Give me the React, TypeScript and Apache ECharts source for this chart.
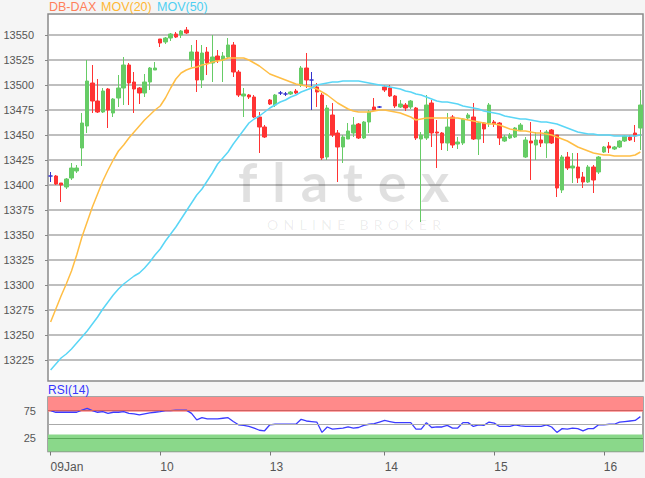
import React, { useEffect, useRef } from "react";
import * as echarts from "echarts";

// ---- data ----
const dayLabels = ["09Jan", "10", "13", "14", "15", "16"];
const dayStarts = [0, 21, 42, 64, 85, 106];

const opens = [
  13409, 13409, 13402, 13398, 13407, 13414, 13437, 13459, 13502, 13484, 13473, 13496, 13472, 13487, 13497, 13520, 13503, 13497, 13492, 13503, 13515,
  13546, 13543, 13547, 13551, 13550, 13555, 13525, 13533, 13505, 13533, 13522, 13529, 13525, 13528, 13540, 13513, 13489, 13490, 13488, 13468, 13458,
  13485, 13480, 13492, 13491, 13491, 13494, 13500, 13517, 13505, 13498, 13490, 13428, 13470, 13452, 13438, 13446, 13452, 13461, 13447, 13463, 13478, 13478,
  13498, 13497, 13489, 13478, 13480, 13478, 13477, 13446, 13447, 13482, 13453, 13452, 13442, 13468, 13441, 13442, 13467, 13468, 13446, 13462, 13462,
  13463, 13462, 13444, 13447, 13448, 13455, 13428, 13444, 13440, 13445, 13442, 13455, 13450, 13395, 13428, 13417, 13418, 13408, 13403, 13418, 13413,
  13433, 13439, 13436, 13438, 13444, 13448, 13452, 13457,
];
const closes = [
  13409, 13401, 13400, 13406, 13417, 13417, 13462, 13504, 13484, 13473, 13494, 13475, 13486, 13497, 13520, 13502, 13496, 13492, 13503, 13517, 13517,
  13542, 13547, 13551, 13548, 13554, 13552, 13533, 13505, 13532, 13522, 13528, 13525, 13529, 13540, 13513, 13490, 13491, 13488, 13468, 13458, 13448,
  13481, 13490, 13492, 13491, 13493, 13492, 13517, 13505, 13505, 13493, 13427, 13477, 13450, 13438, 13448, 13454, 13460, 13447, 13463, 13473, 13475, 13478,
  13495, 13489, 13479, 13481, 13477, 13484, 13447, 13450, 13480, 13452, 13452, 13442, 13458, 13440, 13443, 13466, 13470, 13446, 13462, 13456, 13480,
  13461, 13447, 13448, 13450, 13457, 13460, 13445, 13442, 13445, 13442, 13453, 13442, 13397, 13428, 13417, 13419, 13407, 13403, 13418, 13405, 13428,
  13438, 13437, 13438, 13444, 13449, 13445, 13449, 13480,
];
const lows = [
  13403, 13400, 13383, 13396, 13405, 13412, 13419, 13452, 13472, 13472, 13472, 13457, 13468, 13478, 13480, 13480, 13472, 13481, 13488, 13495, 13515,
  13538, 13541, 13544, 13547, 13547, 13551, 13518, 13493, 13497, 13510, 13503, 13522, 13503, 13527, 13508, 13488, 13468, 13486, 13467, 13432, 13447,
  13480, 13478, 13490, 13489, 13490, 13491, 13498, 13497, 13475, 13478, 13425, 13425, 13448, 13403, 13422, 13446, 13448, 13446, 13446, 13452, 13475, 13477,
  13493, 13488, 13477, 13477, 13474, 13476, 13445, 13363, 13445, 13438, 13417, 13435, 13434, 13437, 13436, 13440, 13465, 13445, 13430, 13442, 13458,
  13458, 13440, 13443, 13446, 13447, 13454, 13427, 13405, 13425, 13438, 13427, 13441, 13388, 13392, 13415, 13402, 13402, 13397, 13402, 13392, 13411,
  13432, 13432, 13435, 13437, 13443, 13444, 13443, 13435,
];
const highs = [
  13413, 13410, 13402, 13407, 13422, 13420, 13472, 13525, 13520, 13506, 13497, 13497, 13487, 13510, 13528, 13522, 13513, 13498, 13511, 13518, 13523,
  13546, 13548, 13552, 13553, 13555, 13558, 13540, 13545, 13540, 13538, 13550, 13535, 13533, 13547, 13543, 13515, 13497, 13491, 13490, 13473, 13460,
  13486, 13491, 13494, 13493, 13494, 13496, 13519, 13532, 13513, 13502, 13492, 13480, 13482, 13455, 13450, 13462, 13468, 13462, 13464, 13475, 13487, 13479,
  13500, 13500, 13490, 13485, 13482, 13485, 13478, 13453, 13490, 13485, 13465, 13453, 13472, 13470, 13448, 13467, 13472, 13482, 13463, 13463, 13482,
  13465, 13463, 13450, 13452, 13458, 13462, 13448, 13463, 13453, 13455, 13455, 13456, 13450, 13430, 13433, 13432, 13432, 13413, 13420, 13420, 13429,
  13439, 13443, 13439, 13445, 13450, 13450, 13460, 13495,
];
const ma20 = [
  13263, 13276, 13289, 13301, 13314, 13330, 13348, 13363, 13378, 13391, 13404, 13415, 13425, 13434, 13440, 13447, 13453, 13459, 13465, 13470, 13475,
  13479, 13487, 13497, 13506, 13512, 13515, 13517, 13518, 13520, 13521, 13523, 13524, 13525, 13527, 13527, 13527, 13527, 13525, 13522, 13519, 13515,
  13511, 13509, 13507, 13505, 13503, 13501, 13500, 13499, 13498, 13496, 13493, 13490, 13486, 13482, 13479, 13476, 13474, 13473, 13473, 13473, 13474, 13475,
  13475, 13474, 13473, 13472, 13470, 13468, 13465, 13466, 13467, 13467, 13467, 13467, 13467, 13467, 13467, 13466, 13465, 13464, 13463, 13462, 13461,
  13461, 13460, 13458, 13456, 13455, 13454, 13454, 13453, 13452, 13452, 13451, 13450, 13448, 13446, 13444, 13441, 13438, 13436, 13434, 13432, 13431,
  13430, 13430, 13429, 13429, 13429, 13429, 13430, 13433,
];
const ma50 = [
  13215, 13221, 13227, 13231, 13236, 13242, 13248, 13254, 13261, 13268, 13276, 13283, 13290, 13296, 13301, 13305, 13309, 13312, 13317, 13323, 13330,
  13336, 13344, 13351, 13358, 13366, 13374, 13382, 13390, 13396, 13404, 13412, 13421, 13427, 13433, 13441, 13448, 13455, 13462, 13466, 13469, 13473,
  13477, 13480, 13483, 13485, 13488, 13490, 13493, 13495, 13497, 13500, 13501, 13502, 13503, 13503, 13504, 13504, 13504, 13504, 13503, 13502, 13501, 13500,
  13499, 13498, 13497, 13496, 13494, 13493, 13491, 13490, 13488, 13486, 13484, 13483, 13483, 13482, 13481, 13479, 13478, 13477, 13476, 13474, 13473,
  13472, 13471, 13469, 13468, 13467, 13466, 13466, 13465, 13464, 13463, 13463, 13462, 13461, 13459, 13457, 13455, 13453, 13452, 13451, 13451, 13450,
  13450, 13450, 13449, 13449, 13449, 13449, 13449, 13450,
];
const rsi14 = [
  75, 72, 72, 72, 72, 72, 76, 79, 75, 72, 73, 70, 72, 72, 73, 70, 69, 67, 69, 71, 72,
  73, 75, 75, 76, 76, 76, 70, 58, 62, 60, 60, 60, 61, 62, 55, 49, 48, 46, 43, 39, 38,
  49, 50, 50, 50, 50, 50, 59, 56, 55, 54, 35, 45, 41, 42, 43, 45, 43, 44, 48, 50, 51, 54,
  57, 55, 53, 53, 53, 53, 41, 41, 53, 44, 45, 45, 48, 43, 43, 53, 53, 46, 49, 48, 54,
  52, 46, 46, 46, 49, 47, 46, 46, 46, 46, 49, 45, 35, 42, 41, 43, 42, 38, 42, 42, 49,
  49, 50, 50, 54, 55, 56, 57, 64,
];
const priceTicks = [13225, 13250, 13275, 13300, 13325, 13350, 13375, 13400, 13425, 13450, 13475, 13500, 13525, 13550];
const rsiTicks = [25, 75];

const UP = "#66cc66";
const DOWN = "#ff3333";
const DOJI = "#3333cc";
const FONT = "'Liberation Sans', Arial, sans-serif";

export default function App() {
  const ref = useRef<HTMLDivElement>(null);

  useEffect(() => {
    const chart = echarts.init(ref.current!, null, { renderer: "svg" });
    const cats = opens.map((_, i) => String(i));
    const candles = opens.map((o, i) => {
      const v = [o, closes[i], lows[i], highs[i]];
      return o === closes[i]
        ? { value: v, itemStyle: { color: DOJI, color0: DOJI, borderColor: DOJI, borderColor0: DOJI } }
        : v;
    });
    const isDay = (i: number) => dayStarts.indexOf(i) >= 0;

    chart.setOption({
      animation: false,
      backgroundColor: "#f5f5f5",
      textStyle: { fontFamily: FONT },
      grid: [
        { left: 48, top: 14, width: 595, height: 367, show: true, backgroundColor: "#ffffff", borderColor: "#8a8a8a", borderWidth: 1.5 },
        { left: 48, top: 397, width: 595, height: 54.5, show: true, backgroundColor: "#ffffff", borderColor: "#8a8a8a", borderWidth: 1.5 },
      ],
      xAxis: [
        { type: "category", gridIndex: 0, data: cats, boundaryGap: true, show: false },
        {
          type: "category",
          gridIndex: 1,
          data: cats,
          boundaryGap: true,
          offset: 2,
          axisLine: { show: false },
          axisTick: { show: true, alignWithLabel: true, interval: (i: number) => isDay(i), length: 4, lineStyle: { color: "#777" } },
          axisLabel: {
            interval: (i: number) => isDay(i),
            formatter: (v: string) => dayLabels[dayStarts.indexOf(Number(v))] ?? "",
            align: "left",
            margin: 7,
            color: "#555",
            fontSize: 12,
          },
          splitLine: { show: false },
        },
      ],
      yAxis: [
        {
          type: "value",
          gridIndex: 0,
          min: 13204,
          max: 13571,
          axisLine: { show: false },
          axisTick: { show: true, customValues: priceTicks, length: 3, lineStyle: { color: "#888" } },
          axisLabel: { customValues: priceTicks, formatter: (v: number) => String(v), color: "#555", fontSize: 11, margin: 14 },
          splitLine: { show: true, lineStyle: { color: "#aaaaaa", width: 1.5 } },
        },
        {
          type: "value",
          gridIndex: 1,
          min: 0,
          max: 100,
          interval: 25,
          axisLine: { show: false },
          axisTick: { show: false },
          axisLabel: { customValues: rsiTicks, formatter: (v: number) => String(v), color: "#555", fontSize: 11, margin: 12 },
          splitLine: { show: false },
        },
      ],
      graphic: [
        { type: "text", x: 49, y: 7, style: { text: "DB-DAX", fill: "#ff7f5a", fontSize: 12.5, fontFamily: FONT, verticalAlign: "middle" } },
        { type: "text", x: 101, y: 7, style: { text: "MOV(20)", fill: "#ffb733", fontSize: 12.5, fontFamily: FONT, verticalAlign: "middle" } },
        { type: "text", x: 157, y: 7, style: { text: "MOV(50)", fill: "#4fcff2", fontSize: 12.5, fontFamily: FONT, verticalAlign: "middle" } },
        { type: "text", x: 48, y: 390, style: { text: "RSI(14)", fill: "#3535ff", fontSize: 12, fontFamily: FONT, verticalAlign: "middle" } },
      ],
      series: [
        {
          type: "candlestick",
          xAxisIndex: 0,
          yAxisIndex: 0,
          data: candles,
          barWidth: 4,
          itemStyle: { color: UP, color0: DOWN, borderColor: UP, borderColor0: DOWN, borderWidth: 1 },
        },
        {
          type: "line",
          xAxisIndex: 0,
          yAxisIndex: 0,
          data: ma20,
          symbol: "none",
          lineStyle: { color: "#ffbe45", width: 1.5 },
        },
        {
          type: "line",
          xAxisIndex: 0,
          yAxisIndex: 0,
          data: ma50,
          symbol: "none",
          lineStyle: { color: "#5ad6f6", width: 1.5 },
        },
        {
          type: "line",
          xAxisIndex: 1,
          yAxisIndex: 1,
          data: rsi14,
          symbol: "none",
          lineStyle: { color: "#3b3bff", width: 1.3 },
          markArea: {
            silent: true,
            data: [
              [{ yAxis: 73, itemStyle: { color: "#ff8a8a" } }, { yAxis: 100 }],
              [{ yAxis: 0, itemStyle: { color: "#8ad88a" } }, { yAxis: 31 }],
            ],
          },
          markLine: {
            silent: true,
            symbol: ["none", "none"],
            label: { show: false },
            data: [
              { yAxis: 75, lineStyle: { color: "#d06060", width: 1.2, type: "solid" } },
              { yAxis: 50, lineStyle: { color: "#aaaaaa", width: 1.2, type: "solid" } },
              { yAxis: 25, lineStyle: { color: "#5aaa5a", width: 1.2, type: "solid" } },
            ],
          },
        },
      ],
    });
    return () => chart.dispose();
  }, []);

  return (
    <div style={{ position: "fixed", left: 0, top: 0, width: 645, height: 478 }}>
      <div ref={ref} style={{ position: "absolute", left: 0, top: 0, width: 645, height: 478 }} />
      <div
        style={{
          position: "absolute",
          left: 238,
          top: 155,
          fontFamily: "Lato, 'Noto Sans', sans-serif",
          fontWeight: 700,
          fontSize: 54,
          lineHeight: "54px",
          letterSpacing: 15,
          color: "rgba(0,0,0,0.12)",
          pointerEvents: "none",
          whiteSpace: "nowrap",
        }}
      >
        flatex
      </div>
      <div
        style={{
          position: "absolute",
          left: 267,
          top: 218,
          fontFamily: "Lato, 'Noto Sans', sans-serif",
          fontSize: 14,
          lineHeight: "14px",
          letterSpacing: 5.3,
          color: "rgba(0,0,0,0.08)",
          pointerEvents: "none",
          whiteSpace: "nowrap",
        }}
      >
        ONLINE BROKER
      </div>
    </div>
  );
}
